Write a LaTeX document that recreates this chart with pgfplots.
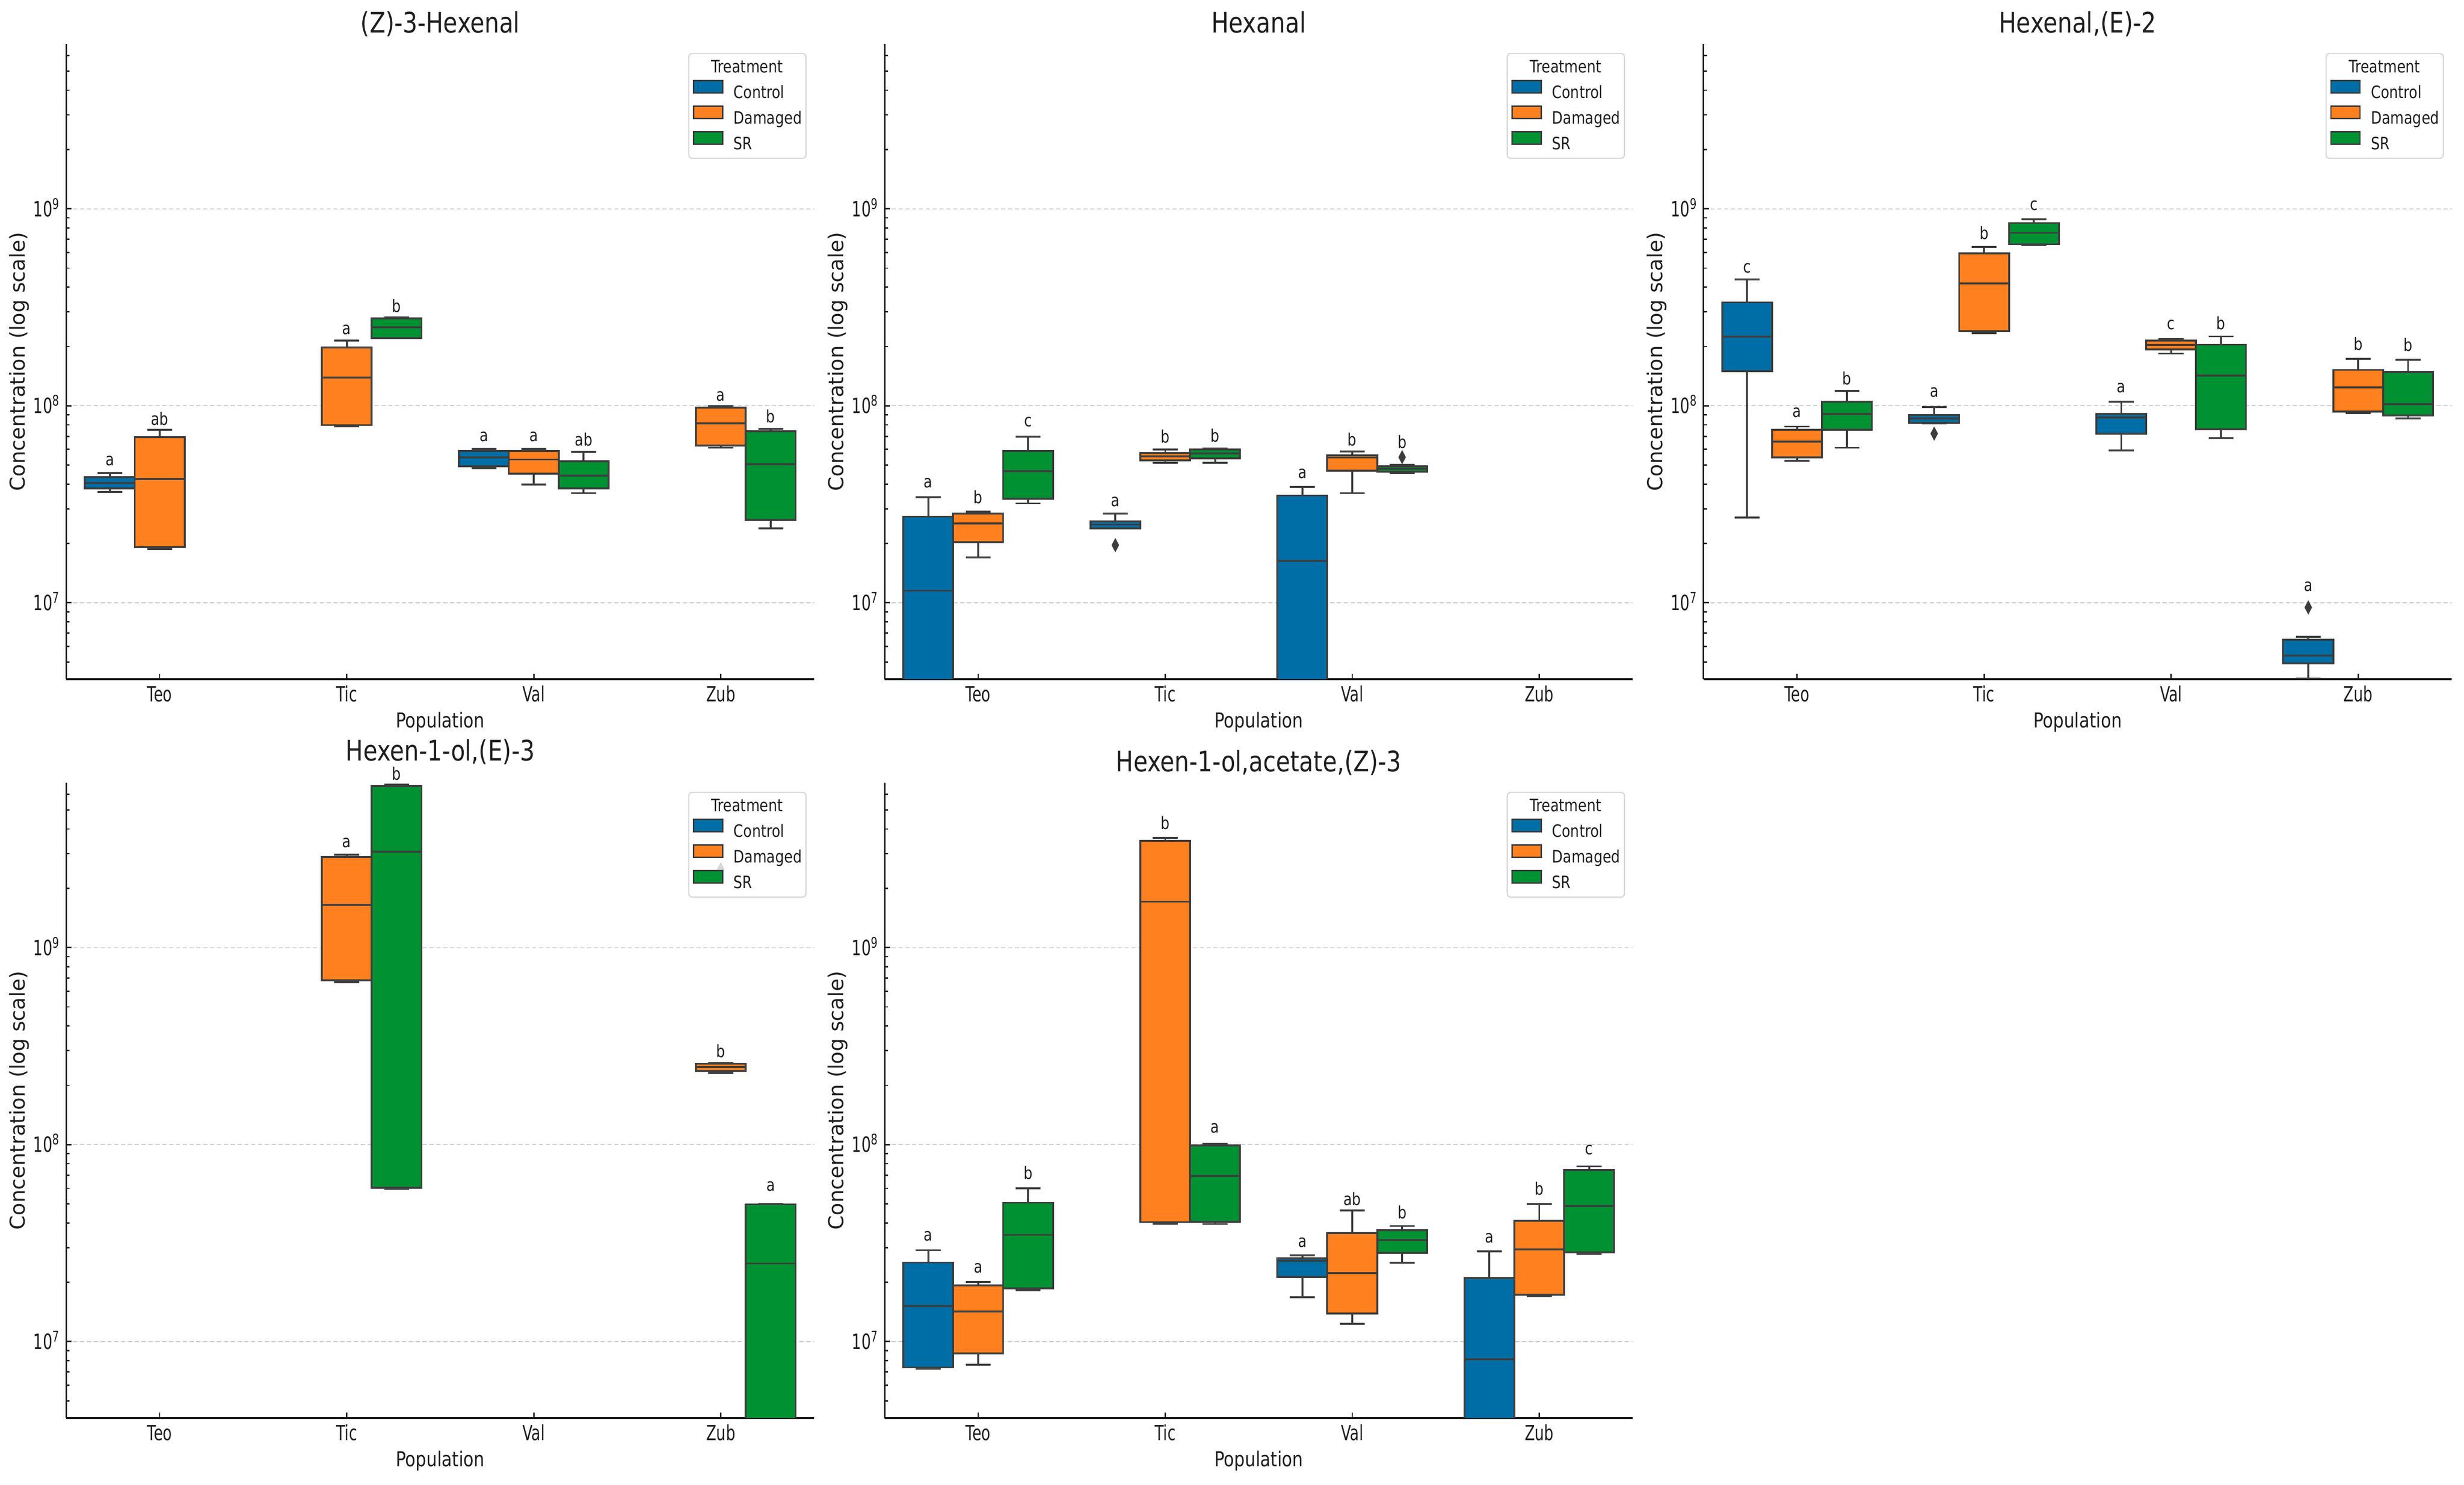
\documentclass[border=0pt]{standalone}
\usepackage{fontspec}
\setmainfont{DejaVu Sans}[FakeStretch=0.82]
\newfontfamily\ylfont{DejaVu Sans}
\newfontfamily\tickfont{DejaVu Sans}[FakeStretch=0.71]
\usepackage{pgfplots}
\pgfplotsset{compat=1.18}
\definecolor{cblue}{RGB}{0,110,166}
\definecolor{corange}{RGB}{255,128,30}
\definecolor{cgreen}{RGB}{0,145,50}
\definecolor{lgrey}{RGB}{61,61,61}
\definecolor{txt}{RGB}{30,30,30}
\definecolor{legc}{RGB}{210,210,210}
\tikzset{lab/.style={font=\fontsize{10}{12}\selectfont, text=txt, inner sep=0pt, anchor=center}}
\pgfplotsset{
  bxl/.style={solid, draw=lgrey, line width=1.1pt, mark=none, line join=miter},
  outl/.style={only marks, mark=diamond*, mark size=3.85pt,
    mark options={solid, fill=lgrey, draw=lgrey, xscale=0.7, line width=0.3pt}},
  every axis/.append style={
    scale only axis, width=436.8pt, height=370.8pt,
    anchor=south west,
    ymode=log, ymin=4.09e6, ymax=6.87e9,
    xmin=-0.5, xmax=3.5,
    xtick={0,1,2,3}, xticklabels={Teo,Tic,Val,Zub},
    ytick={1e7,1e8,1e9},
    yticklabels={10\textsuperscript{7},10\textsuperscript{8},10\textsuperscript{9}},
    minor ytick={5e6,6e6,7e6,8e6,9e6,2e7,3e7,4e7,5e7,6e7,7e7,8e7,9e7,2e8,3e8,4e8,5e8,6e8,7e8,8e8,9e8,2e9,3e9,4e9,5e9,6e9},
    axis x line*=bottom, axis y line*=left,
    axis line style={line width=0.9pt, draw=txt, -},
    tick align=inside,
    major tick length=3.2pt, minor tick length=2pt,
    tick style={line width=0.8pt, draw=txt},
    ymajorgrids,
    major grid style={draw=gray!40, line width=0.6pt, dash pattern=on 2.5pt off 1.5pt},
    xticklabel style={font=\tickfont\fontsize{12.2}{14}\selectfont, text=txt, anchor=base, inner sep=0pt, yshift=-13.2pt},
    yticklabel style={font=\tickfont\fontsize{12.3}{14}\selectfont, text=txt, anchor=base east, inner sep=0pt, xshift=-3.4pt, yshift=-4.5pt},
    xlabel={Population},
    xlabel style={font=\fontsize{12}{14}\selectfont, text=txt, at={(axis description cs:0.5,0)}, anchor=base, inner sep=0pt, yshift=-28.3pt},
    ylabel={\ylfont Concentration (log scale)},
    ylabel style={font=\fontsize{12}{14}\selectfont, text=txt, at={(axis description cs:-0.0626,0.5)}, anchor=center, inner sep=0pt},
    title style={font=\fontsize{16.5}{19}\selectfont, text=txt, at={(axis description cs:0.5,1)}, anchor=base, inner sep=0pt, yshift=0.4pt},
    legend cell align=left,
    legend style={at={(axis description cs:1,1)}, anchor=north east, xshift=-4.6pt, yshift=-5.3pt,
      draw=legc, line width=0.6pt, rounded corners=2pt, fill=white, fill opacity=0.8, text opacity=1, draw opacity=1,
      font=\fontsize{10}{12}\selectfont, text=txt, inner xsep=2.4pt, inner ysep=3.6pt,
      row sep=2.7pt, column sep=6pt, nodes={inner sep=0pt}},
  },
}
\newcommand{\lstrut}{\rule[-2.4pt]{0pt}{10pt}}
\newcommand{\treatlegend}{%
  \addlegendimage{empty legend}\addlegendentry{\lstrut\hspace{-13pt}Treatment}
  \addlegendimage{legend image code/.code={\draw[sharp corners, fill opacity=1, fill=cblue, draw=lgrey, line width=0.8pt] (0pt,0.1pt) rectangle (17pt,7.3pt);}}\addlegendentry{\lstrut Control}
  \addlegendimage{legend image code/.code={\draw[sharp corners, fill opacity=1, fill=corange, draw=lgrey, line width=0.8pt] (0pt,0.1pt) rectangle (17pt,7.3pt);}}\addlegendentry{\lstrut Damaged}
  \addlegendimage{legend image code/.code={\draw[sharp corners, fill opacity=1, fill=cgreen, draw=lgrey, line width=0.8pt] (0pt,0.1pt) rectangle (17pt,7.3pt);}}\addlegendentry{\lstrut SR}
}
% box: #1 colour, #2 position, #3 lower whisker, #4 Q1, #5 median, #6 Q3, #7 upper whisker
\newcommand{\bx}[7]{%
  \pgfmathsetmacro{\xa}{#2-0.13335}%
  \pgfmathsetmacro{\xb}{#2+0.13335}%
  \pgfmathsetmacro{\ca}{#2-0.0667}%
  \pgfmathsetmacro{\cb}{#2+0.0667}%
  \edef\tmp{\noexpand\addplot[bxl] coordinates {(\ca,#7) (\cb,#7) (#2,#7) (#2,#6)};}\tmp
  \edef\tmp{\noexpand\addplot[bxl] coordinates {(\ca,#3) (\cb,#3) (#2,#3) (#2,#4)};}\tmp
  \edef\tmp{\noexpand\addplot[bxl, fill=#1] coordinates {(\xa,#4) (\xb,#4) (\xb,#6) (\xa,#6)} -- cycle;}\tmp
  \edef\tmp{\noexpand\addplot[bxl] coordinates {(\xa,#5) (\xb,#5)};}\tmp
}
\begin{document}
\begin{tikzpicture}
\useasboundingbox (0pt,0pt) rectangle (1438.56pt,866.88pt);
\fill[white] (0pt,0pt) rectangle (1438.56pt,866.88pt);

% ---------------- (Z)-3-Hexenal ----------------
\begin{axis}[at={(38.64pt,470.4pt)}, title={(Z)-3-Hexenal}]
\treatlegend
\bx{cblue}{-0.2667}{3.66e7}{3.80e7}{4.06e7}{4.34e7}{4.54e7}
\bx{corange}{0}{1.87e7}{1.92e7}{4.25e7}{6.91e7}{7.55e7}
\bx{corange}{1}{7.84e7}{7.98e7}{1.39e8}{1.98e8}{2.14e8}
\bx{cgreen}{1.2667}{2.20e8}{2.21e8}{2.50e8}{2.78e8}{2.81e8}
\bx{cblue}{1.7333}{4.82e7}{4.94e7}{5.48e7}{5.89e7}{6.02e7}
\bx{corange}{2}{3.98e7}{4.52e7}{5.33e7}{5.89e7}{6.02e7}
\bx{cgreen}{2.2667}{3.60e7}{3.80e7}{4.42e7}{5.21e7}{5.82e7}
\bx{corange}{3}{6.12e7}{6.29e7}{8.15e7}{9.80e7}{9.96e7}
\bx{cgreen}{3.2667}{2.38e7}{2.63e7}{5.05e7}{7.43e7}{7.64e7}
\node[lab] at (axis cs:-0.2667,5.24e7) {a};
\node[lab] at (axis cs:0,8.61e7) {ab};
\node[lab] at (axis cs:1,2.43e8) {a};
\node[lab] at (axis cs:1.2667,3.22e8) {b};
\node[lab] at (axis cs:1.7333,6.98e7) {a};
\node[lab] at (axis cs:2,6.98e7) {a};
\node[lab] at (axis cs:2.2667,6.76e7) {ab};
\node[lab] at (axis cs:3,1.12e8) {a};
\node[lab] at (axis cs:3.2667,8.85e7) {b};
\end{axis}

% ---------------- Hexanal ----------------
\begin{axis}[at={(516.48pt,470.4pt)}, title={Hexanal}]
\treatlegend
\bx{cblue}{-0.2667}{1e6}{1e6}{1.15e7}{2.73e7}{3.43e7}
\bx{corange}{0}{1.70e7}{2.03e7}{2.53e7}{2.84e7}{2.90e7}
\bx{cgreen}{0.2667}{3.19e7}{3.37e7}{4.65e7}{5.89e7}{6.98e7}
\bx{cblue}{0.7333}{2.38e7}{2.38e7}{2.49e7}{2.58e7}{2.84e7}
\bx{corange}{1}{5.13e7}{5.27e7}{5.53e7}{5.75e7}{6.01e7}
\bx{cgreen}{1.2667}{5.13e7}{5.41e7}{5.72e7}{6.01e7}{6.08e7}
\bx{cblue}{1.7333}{1e6}{1e6}{1.63e7}{3.50e7}{3.87e7}
\bx{corange}{2}{3.60e7}{4.69e7}{5.45e7}{5.60e7}{5.85e7}
\bx{cgreen}{2.2667}{4.54e7}{4.62e7}{4.80e7}{4.93e7}{5.01e7}
\addplot[outl] coordinates {(0.7333,1.96e7) (2.2667,5.48e7)};
\node[lab] at (axis cs:-0.2667,4.06e7) {a};
\node[lab] at (axis cs:0,3.43e7) {b};
\node[lab] at (axis cs:0.2667,8.28e7) {c};
\node[lab] at (axis cs:0.7333,3.25e7) {a};
\node[lab] at (axis cs:1,6.98e7) {b};
\node[lab] at (axis cs:1.2667,7.06e7) {b};
\node[lab] at (axis cs:1.7333,4.52e7) {a};
\node[lab] at (axis cs:2,6.76e7) {b};
\node[lab] at (axis cs:2.2667,6.54e7) {b};
\end{axis}

% ---------------- Hexenal,(E)-2 ----------------
\begin{axis}[at={(994.56pt,470.4pt)}, title={Hexenal,(E)-2}]
\treatlegend
\bx{cblue}{-0.2667}{2.71e7}{1.50e8}{2.24e8}{3.35e8}{4.37e8}
\bx{corange}{0}{5.24e7}{5.48e7}{6.58e7}{7.55e7}{7.84e7}
\bx{cgreen}{0.2667}{6.12e7}{7.55e7}{9.10e7}{1.05e8}{1.19e8}
\bx{cblue}{0.7333}{8.11e7}{8.20e7}{8.61e7}{8.96e7}{9.84e7}
\bx{corange}{1}{2.34e8}{2.39e8}{4.18e8}{5.95e8}{6.40e8}
\bx{cgreen}{1.2667}{6.54e8}{6.61e8}{7.55e8}{8.47e8}{8.86e8}
\bx{cblue}{1.7333}{5.92e7}{7.22e7}{8.71e7}{9.06e7}{1.05e8}
\bx{corange}{2}{1.84e8}{1.93e8}{2.03e8}{2.14e8}{2.18e8}
\bx{cgreen}{2.2667}{6.84e7}{7.59e7}{1.42e8}{2.04e8}{2.25e8}
\bx{cblue}{2.7333}{4.11e6}{4.91e6}{5.39e6}{6.47e6}{6.72e6}
\bx{corange}{3}{9.20e7}{9.35e7}{1.24e8}{1.52e8}{1.73e8}
\bx{cgreen}{3.2667}{8.61e7}{8.91e7}{1.02e8}{1.48e8}{1.71e8}
\addplot[outl] coordinates {(0.7333,7.22e7) (2.7333,9.46e6)};
\node[lab] at (axis cs:-0.2667,4.99e8) {c};
\node[lab] at (axis cs:0,9.25e7) {a};
\node[lab] at (axis cs:0.2667,1.38e8) {b};
\node[lab] at (axis cs:0.7333,1.17e8) {a};
\node[lab] at (axis cs:1,7.55e8) {b};
\node[lab] at (axis cs:1.2667,1.04e9) {c};
\node[lab] at (axis cs:1.7333,1.23e8) {a};
\node[lab] at (axis cs:2,2.57e8) {c};
\node[lab] at (axis cs:2.2667,2.63e8) {b};
\node[lab] at (axis cs:2.7333,1.21e7) {a};
\node[lab] at (axis cs:3,2.06e8) {b};
\node[lab] at (axis cs:3.2667,2.04e8) {b};
\end{axis}

% ---------------- Hexen-1-ol,(E)-3 ----------------
\begin{axis}[at={(38.64pt,39.12pt)}, title={Hexen-1-ol,(E)-3}, title style={yshift=6.4pt}]
\treatlegend
\bx{corange}{1}{6.68e8}{6.82e8}{1.65e9}{2.88e9}{2.96e9}
\bx{cgreen}{1.2667}{5.97e7}{6.03e7}{3.07e9}{6.62e9}{6.73e9}
\bx{corange}{3}{2.31e8}{2.36e8}{2.47e8}{2.57e8}{2.59e8}
\bx{cgreen}{3.2667}{1e6}{1e6}{2.49e7}{4.97e7}{5.00e7}
\addplot[outl] coordinates {(3,2.5e9)};
\node[lab] at (axis cs:1,3.41e9) {a};
\coordinate (p4b) at (axis cs:1.2667,7.65e9);
\node[lab] at (axis cs:3,2.98e8) {b};
\node[lab] at (axis cs:3.2667,6.13e7) {a};
\end{axis}
\node[lab] at (p4b) {b};

% ---------------- Hexen-1-ol,acetate,(Z)-3 ----------------
\begin{axis}[at={(516.48pt,39.12pt)}, title={Hexen-1-ol,acetate,(Z)-3}]
\treatlegend
\bx{cblue}{-0.2667}{7.26e6}{7.38e6}{1.51e7}{2.52e7}{2.91e7}
\bx{corange}{0}{7.62e6}{8.71e6}{1.42e7}{1.93e7}{2.01e7}
\bx{cgreen}{0.2667}{1.82e7}{1.86e7}{3.48e7}{5.06e7}{6.01e7}
\bx{corange}{1}{3.97e7}{4.04e7}{1.71e9}{3.49e9}{3.61e9}
\bx{cgreen}{1.2667}{3.95e7}{4.06e7}{6.94e7}{9.89e7}{1.01e8}
\bx{cblue}{1.7333}{1.68e7}{2.13e7}{2.57e7}{2.64e7}{2.74e7}
\bx{corange}{2}{1.23e7}{1.39e7}{2.23e7}{3.55e7}{4.63e7}
\bx{cgreen}{2.2667}{2.51e7}{2.82e7}{3.27e7}{3.67e7}{3.86e7}
\bx{cblue}{2.7333}{1e6}{1e6}{8.11e6}{2.10e7}{2.87e7}
\bx{corange}{3}{1.70e7}{1.73e7}{2.93e7}{4.10e7}{4.98e7}
\bx{cgreen}{3.2667}{2.79e7}{2.84e7}{4.88e7}{7.41e7}{7.75e7}
\node[lab] at (axis cs:-0.2667,3.42e7) {a};
\node[lab] at (axis cs:0,2.36e7) {a};
\node[lab] at (axis cs:0.2667,7.17e7) {b};
\node[lab] at (axis cs:1,4.29e9) {b};
\node[lab] at (axis cs:1.2667,1.21e8) {a};
\node[lab] at (axis cs:1.7333,3.18e7) {a};
\node[lab] at (axis cs:2,5.30e7) {ab};
\node[lab] at (axis cs:2.2667,4.53e7) {b};
\node[lab] at (axis cs:2.7333,3.36e7) {a};
\node[lab] at (axis cs:3,5.97e7) {b};
\node[lab] at (axis cs:3.2667,9.42e7) {c};
\end{axis}
\end{tikzpicture}
\end{document}
